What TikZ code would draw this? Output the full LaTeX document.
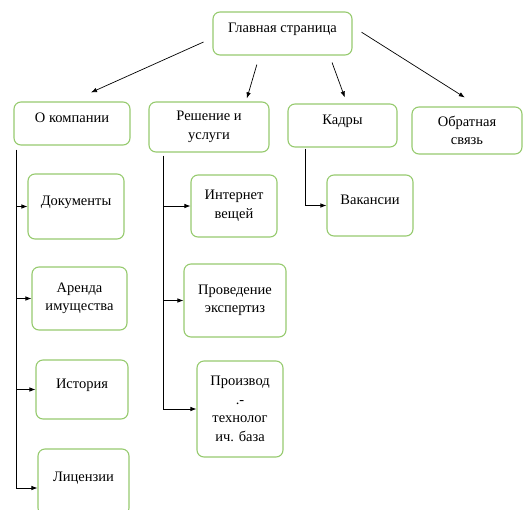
\documentclass[tikz,border=0pt]{standalone}
\usepackage{fontspec}
\setmainfont{Liberation Serif}
\usepackage{tikz}
\usetikzlibrary{arrows.meta, positioning, calc}
\definecolor{boxgreen}{RGB}{150,202,110}

\begin{document}
\begin{tikzpicture}[
  x=1pt, y=-1pt,
  box/.style={
    draw=boxgreen, line width=1.1pt, rounded corners=7pt,
    align=center, inner sep=2pt,
    font=\fontsize{14.5}{18.5}\selectfont
  },
  high/.style={text depth=11pt},
  arr/.style={-{Latex[length=6pt,width=4.5pt]}, line width=0.7pt},
  trunk/.style={line width=0.7pt}
]
  \clip (0,0) rectangle (530,509);
  \useasboundingbox (0,0) rectangle (530,509);

  % top level
  \node[box, high, minimum width=139, minimum height=43] (main) at (282.5,33.5) {Главная страница};
  \node[box, high, minimum width=116, minimum height=43] (komp) at (72,123.5)  {О компании};
  \node[box, minimum width=120, minimum height=50] (resh) at (209,127)   {Решение и\\услуги};
  \node[box, high, minimum width=109, minimum height=43] (kadr) at (342.5,125.5) {Кадры};
  \node[box, minimum width=110, minimum height=47] (obr)  at (467,130.5) {Обратная\\связь};

  % second level
  \node[box, high, minimum width=96, minimum height=65]  (doc)    at (76,206.5)  {Документы};
  \node[box, minimum width=95, minimum height=63]  (arenda) at (79.5,298.5) {Аренда\\имущества};
  \node[box, high, minimum width=92, minimum height=59]  (hist)   at (82,389.5)  {История};
  \node[box, high, minimum width=91, minimum height=66]  (lic)    at (83.5,482)  {Лицензии};
  \node[box, minimum width=86, minimum height=62]  (inet)   at (234,206)   {Интернет\\вещей};
  \node[box, minimum width=102, minimum height=73] (eksp)   at (235,300.5) {Проведение\\экспертиз};
  \node[box, minimum width=86, minimum height=96]  (proizv) at (240,409)   {Производ\\.-\\технолог\\ич. база};
  \node[box, high, minimum width=86, minimum height=61]  (vak)    at (370,205.5) {Вакансии};

  % from the main page
  \draw[arr, shorten <=9.9pt, shorten >=21.9pt] ([yshift=-4.5]main.west) -- ([xshift=-1]komp.north);
  \draw[arr, shorten <=9.4pt, shorten >=3.2pt] ([xshift=-23]main.south) -- ([xshift=37]resh.north);
  \draw[arr, shorten <=7.4pt, shorten >=6.4pt] ([xshift=47]main.south) -- ([xshift=4.5]kadr.north);
  \draw[arr, shorten <=10.7pt, shorten >=16.8pt] ([yshift=7]main.east) -- ([xshift=12]obr.north);

  % trunks
  \coordinate (t1) at ([xshift=3,yshift=-4]komp.south west);
  \coordinate (t2) at ([xshift=15,yshift=-3]resh.south west);
  \coordinate (t3) at ([xshift=18,yshift=-1]kadr.south west);
  \coordinate (t1end) at ([yshift=-6]t1 |- lic.west);
  \draw[trunk] (t1) -- (t1end);
  \draw[trunk] (t2) -- (t2 |- proizv.west);
  \draw[trunk] (t3) -- (t3 |- vak.west);
  \foreach \t/\n in {t1/doc, t1/arenda, t1/hist, t2/inet, t2/eksp, t2/proizv, t3/vak}
    \draw[arr] (\t |- \n.west) -- (\n.west);
  \draw[arr] (t1end) -- (t1end -| lic.west);
\end{tikzpicture}
\end{document}
